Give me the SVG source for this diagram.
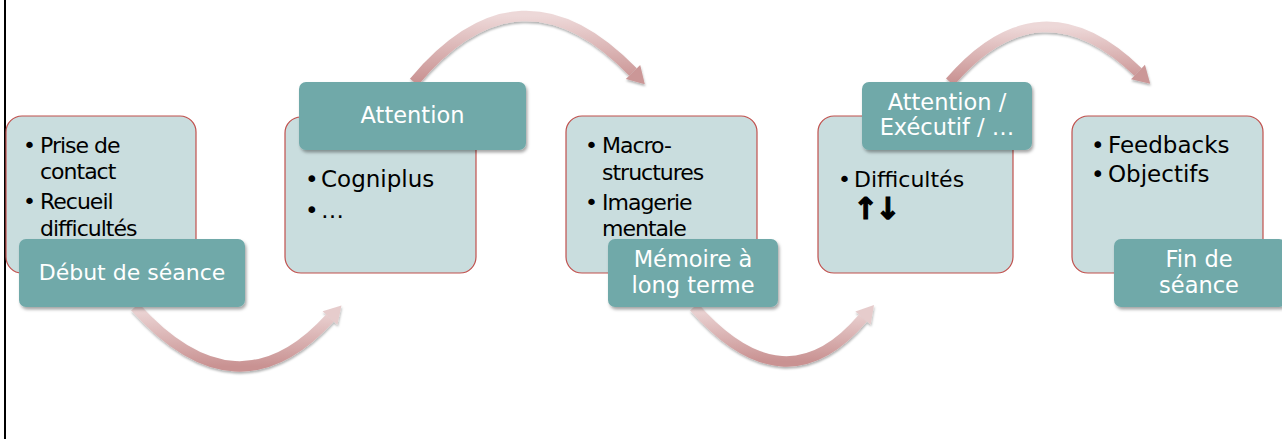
<svg xmlns="http://www.w3.org/2000/svg" width="1282" height="439" viewBox="0 0 1282 439">
  <defs>
    <style>
      .box { fill: #C9DDDE; stroke: #C0504D; stroke-width: 1.2; }
      .lbl { fill: #6FA9A9; filter: url(#shadow); }
      .body { font-family: "DejaVu Sans", "Liberation Sans", sans-serif; fill: #000; }
      .small { font-size: 22px; letter-spacing: -1px; }
      .big { font-size: 23px; }
      .ltxt { font-family: "DejaVu Sans", "Liberation Sans", sans-serif; font-size: 22.5px; fill: #FFFFFF; text-anchor: middle; }
      .arc { fill: none; stroke-width: 10.5; stroke: url(#arcGrad); filter: url(#ashadow); }
      .bul { letter-spacing: 0; }
    </style>
    <linearGradient id="arcGrad" gradientUnits="objectBoundingBox" x1="0" y1="0" x2="0" y2="1">
      <stop offset="0" stop-color="#EDD8D8"/>
      <stop offset="1" stop-color="#C99292"/>
    </linearGradient>
    <filter id="shadow" x="-10%" y="-20%" width="130%" height="150%">
      <feDropShadow dx="1.5" dy="2.5" stdDeviation="1.5" flood-color="#000" flood-opacity="0.35"/>
    </filter>
    <filter id="ashadow" x="-10%" y="-20%" width="130%" height="150%">
      <feDropShadow dx="0.5" dy="2" stdDeviation="1.2" flood-color="#000" flood-opacity="0.3"/>
    </filter>
    <marker id="headDark" markerUnits="userSpaceOnUse" markerWidth="20" markerHeight="24" viewBox="0 -12 18 24" refX="0" refY="0" orient="auto">
      <path d="M0,-10 L17,0 L0,10 z" fill="#CB9797"/>
    </marker>
    <marker id="headLight" markerUnits="userSpaceOnUse" markerWidth="20" markerHeight="24" viewBox="0 -12 18 24" refX="0" refY="0" orient="auto">
      <path d="M0,-10 L17,0 L0,10 z" fill="#E6CCCC"/>
    </marker>
  </defs>

  <rect x="0" y="0" width="1282" height="439" fill="#FFFFFF"/>
  <rect x="4" y="0" width="2" height="439" fill="#000000"/>

  <g id="connectors">
    <path class="arc" d="M 135 307 Q 237 420 330 318" marker-end="url(#headLight)"/>
    <path class="arc" d="M 414 82 Q 520 -45 633 72" marker-end="url(#headDark)"/>
    <path class="arc" d="M 694 307 Q 785 410 863 318" marker-end="url(#headLight)"/>
    <path class="arc" d="M 950 82 Q 1040 -23 1138 72" marker-end="url(#headDark)"/>
  </g>

  <g id="node-debut">
    <rect class="box" x="6" y="116" width="190" height="157" rx="16"/>
    <text class="body small"><tspan class="bul" x="23" y="153">•</tspan><tspan x="40" y="153">Prise de</tspan><tspan x="40" y="179">contact</tspan><tspan class="bul" x="23" y="209">•</tspan><tspan x="40" y="209">Recueil</tspan><tspan x="40" y="236">difficultés</tspan></text>
    <rect class="lbl" x="19" y="239" width="226" height="68" rx="7"/>
    <text class="ltxt" x="132" y="280" style="font-size:22px">Début de séance</text>
  </g>

  <g id="node-attention">
    <rect class="box" x="285" y="117" width="191" height="156" rx="16"/>
    <text class="body big"><tspan x="305" y="187">•</tspan><tspan x="321" y="187">Cogniplus</tspan><tspan x="305" y="218">•</tspan><tspan x="321" y="218">…</tspan></text>
    <rect class="lbl" x="299" y="82" width="227" height="68" rx="7"/>
    <text class="ltxt" x="412.5" y="123">Attention</text>
  </g>

  <g id="node-memoire">
    <rect class="box" x="566" y="116" width="191" height="157" rx="16"/>
    <text class="body small"><tspan class="bul" x="585" y="153">•</tspan><tspan x="602" y="153">Macro-</tspan><tspan x="602" y="180">structures</tspan><tspan class="bul" x="585" y="210">•</tspan><tspan x="602" y="210">Imagerie</tspan><tspan x="602" y="236">mentale</tspan></text>
    <rect class="lbl" x="608" y="239" width="170" height="68" rx="7"/>
    <text class="ltxt"><tspan x="693" y="267">Mémoire à</tspan><tspan x="693" y="293">long terme</tspan></text>
  </g>

  <g id="node-executif">
    <rect class="box" x="818" y="116" width="195" height="157" rx="16"/>
    <text class="body" style="font-size:22px"><tspan x="838" y="187">•</tspan><tspan x="854" y="187">Difficultés</tspan></text>
    <text class="body" x="853" y="219" style="font-size:30px;font-weight:bold;stroke:#000;stroke-width:1.2;letter-spacing:-3px">↑↓</text>
    <rect class="lbl" x="862" y="82" width="170" height="68" rx="7"/>
    <text class="ltxt"><tspan x="947" y="110">Attention /</tspan><tspan x="947" y="135">Exécutif / …</tspan></text>
  </g>

  <g id="node-fin">
    <rect class="box" x="1072" y="116" width="191" height="157" rx="16"/>
    <text class="body big"><tspan x="1091" y="153">•</tspan><tspan x="1108" y="153">Feedbacks</tspan><tspan x="1091" y="182">•</tspan><tspan x="1108" y="182">Objectifs</tspan></text>
    <rect class="lbl" x="1114" y="239" width="172" height="68" rx="7"/>
    <text class="ltxt"><tspan x="1199" y="267">Fin de</tspan><tspan x="1199" y="293">séance</tspan></text>
  </g>
</svg>
